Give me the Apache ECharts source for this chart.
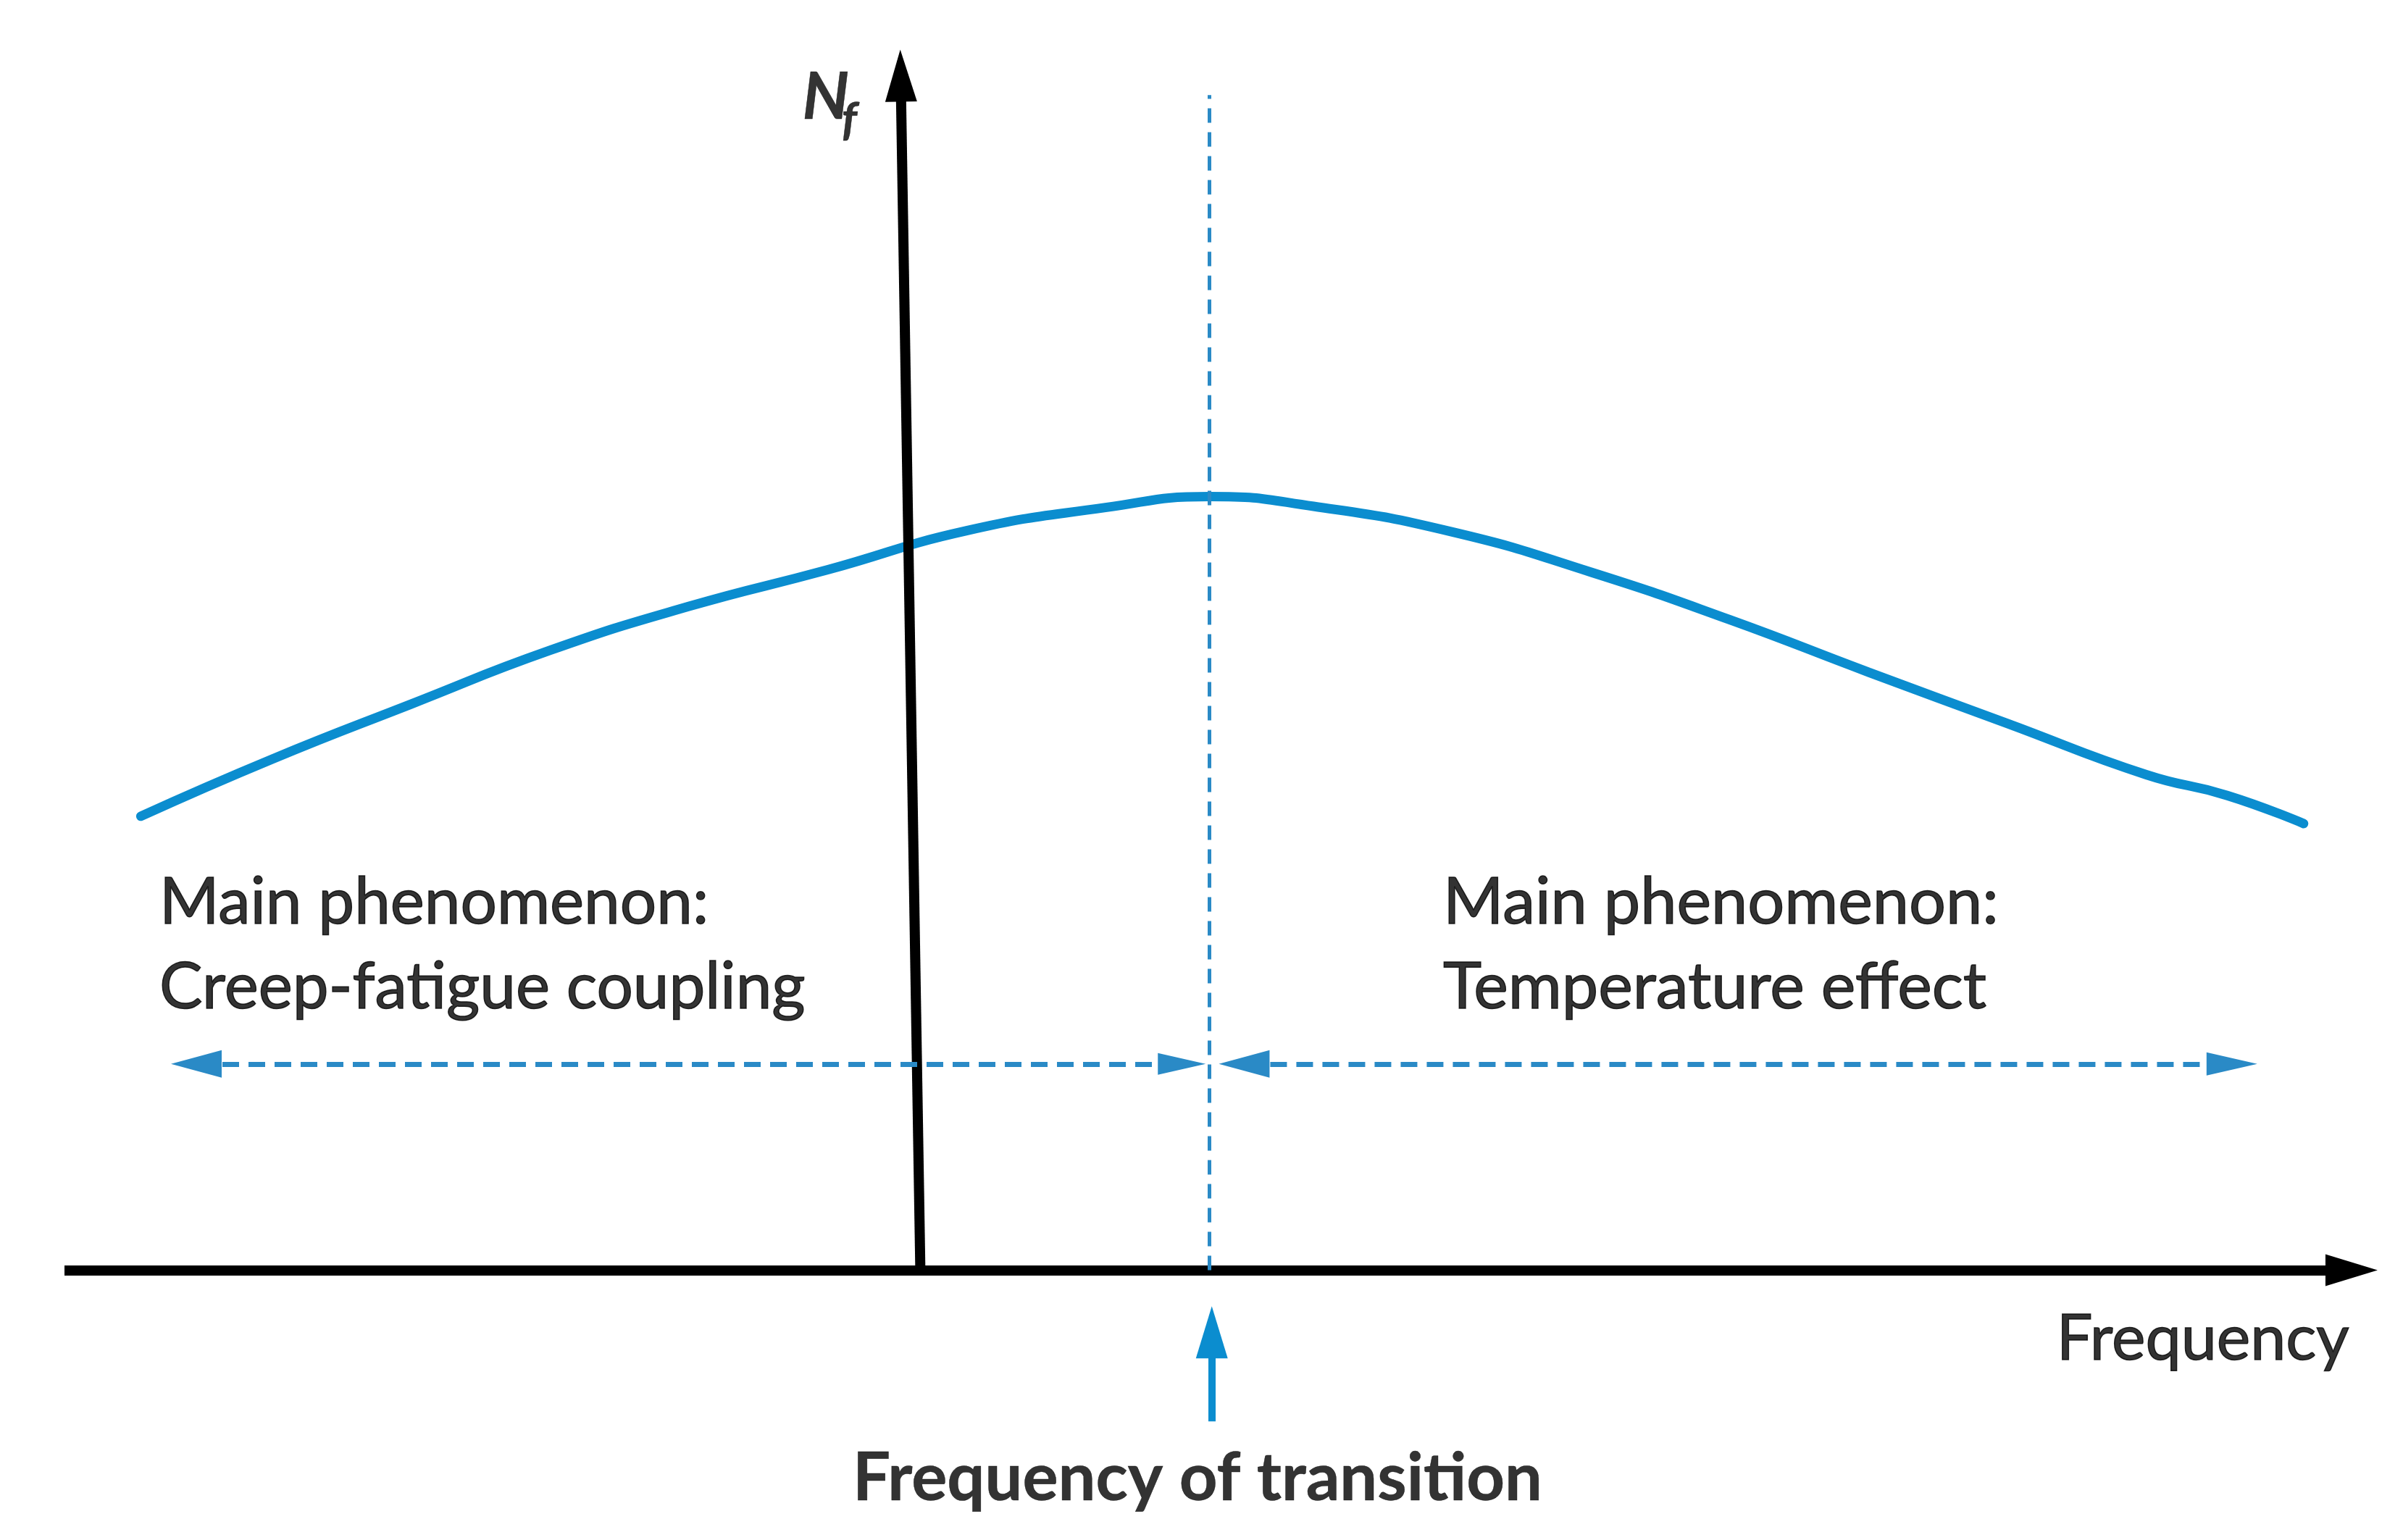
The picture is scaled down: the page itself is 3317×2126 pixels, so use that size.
<!DOCTYPE html>
<html>
<head>
<meta charset="utf-8">
<script src="https://cdn.jsdelivr.net/npm/echarts@6/dist/echarts.min.js"></script>
<style>
html,body{margin:0;padding:0;background:#fff;}
#chart{width:3317px;height:2126px;}
</style>
</head>
<body>
<div id="chart"></div>
<script>
// Curve: number of cycles to failure vs. frequency (arbitrary units)
const freq = [3.3, 9, 15, 21, 27, 33, 39, 45, 49.5, 54, 60, 66, 72, 78, 84, 90, 93.5, 96.8];
const nf   = [37.2, 41.9, 46.4, 50.8, 54.4, 57.4, 60.6, 62.5, 63.4, 62.6, 60.5, 57.2, 53.3, 49.0, 44.8, 40.6, 38.9, 36.6];
const transitionFreq = 49.5;
const yAxisFoot = 37.0, yAxisHead = 36.15;
const axisNames = ['N', 'f', 'Frequency'];
const transitionLabel = 'Frequency of transition';
const regionTitles = ['Main phenomenon:', 'Main phenomenon:'];
const regionNames = ['Creep-fatigue coupling', 'Temperature effect'];
const regionArrows = [[5.7, 48.3], [51.0, 93.7]];

const BLUE = '#0b8dcf';
const DASH = '#2a8ac6';
const FONT = 'Lato';

const curve = freq.map((x, i) => [x, nf[i]]);

const triArrow = [38, 70];
const markLines = [
  // x axis
  [{coord: [0, 0], symbol: 'none', lineStyle: {color: '#000', width: 14, type: 'solid'}},
   {coord: [98.87, 0], symbol: 'triangle', symbolSize: [44, 72]}],
  // y axis (slightly tilted)
  [{coord: [yAxisFoot, 0], symbol: 'none', lineStyle: {color: '#000', width: 14, type: 'solid'}},
   {coord: [yAxisHead, 97.9], symbol: 'triangle', symbolSize: [44, 72]}],
  // transition dashed line
  [{coord: [transitionFreq, 0], symbol: 'none', lineStyle: {color: DASH, width: 5, type: [20, 13]}},
   {coord: [transitionFreq, 96.3], symbol: 'none'}],
  // region arrows
  [{coord: [regionArrows[0][0], 16.9], symbol: 'triangle', symbolSize: triArrow, lineStyle: {color: DASH, width: 7, type: [23, 13]}},
   {coord: [regionArrows[0][1], 16.9], symbol: 'triangle', symbolSize: [30, 66]}],
  [{coord: [regionArrows[1][0], 16.9], symbol: 'triangle', symbolSize: triArrow, lineStyle: {color: DASH, width: 7, type: [23, 13]}},
   {coord: [regionArrows[1][1], 16.9], symbol: 'triangle', symbolSize: [32, 70]}],
  // up arrow to transition frequency
  [{coord: [49.6, -12.4], symbol: 'none', lineStyle: {color: BLUE, width: 10, type: 'solid'}},
   {coord: [49.6, -5.1], symbol: 'triangle', symbolSize: [44, 72]}]
];

const textBase = {show: true, position: 'inside', color: '#000', fontFamily: FONT, textBorderColor: '#000', textBorderWidth: 1.5};
const labels = [
  {value: [4.1, 26.65], label: Object.assign({}, textBase, {formatter: regionTitles[0] + '\n' + regionNames[0], align: 'left', verticalAlign: 'middle', fontSize: 89, lineHeight: 117})},
  {value: [59.6, 26.65], label: Object.assign({}, textBase, {formatter: regionTitles[1] + '\n' + regionNames[1], align: 'left', verticalAlign: 'middle', fontSize: 90, lineHeight: 117})},
  {value: [98.77, -5.67], label: Object.assign({}, textBase, {formatter: axisNames[2], align: 'right', verticalAlign: 'middle', fontSize: 88})},
  {value: [48.98, -17.07], label: Object.assign({}, textBase, {formatter: transitionLabel, align: 'center', verticalAlign: 'middle', fontSize: 92, fontWeight: 'bold', textBorderWidth: 0.5})},
  {value: [31.9, 96.1], label: Object.assign({}, textBase, {formatter: axisNames[0], align: 'left', verticalAlign: 'middle', fontSize: 90, fontWeight: 'bold', fontStyle: 'italic', textBorderWidth: 0.5})},
  {value: [33.6, 94.2], label: Object.assign({}, textBase, {formatter: axisNames[1], align: 'left', verticalAlign: 'middle', fontSize: 64, fontWeight: 'bold', fontStyle: 'italic', textBorderWidth: 0.5})}
];

const chart = echarts.init(document.getElementById('chart'), null, {renderer: 'canvas'});
chart.setOption({
  backgroundColor: '#ffffff',
  animation: false,
  grid: {left: 89, right: 35, top: 69, bottom: 2},
  xAxis: {type: 'value', min: 0, max: 100, show: false},
  yAxis: {type: 'value', min: -22, max: 100, show: false},
  series: [
    {
      type: 'line',
      data: curve,
      smooth: 0.5,
      showSymbol: false,
      symbol: 'none',
      lineStyle: {color: BLUE, width: 13, cap: 'round'},
      z: 2,
      silent: true,
      markLine: {
        silent: true,
        animation: false,
        label: {show: false},
        symbol: ['none', 'triangle'],
        data: markLines,
        z: 5
      }
    },
    {
      type: 'scatter',
      data: labels,
      symbolSize: 0,
      itemStyle: {color: 'rgba(0,0,0,0)'},
      silent: true,
      z: 10
    }
  ]
});
</script>
</body>
</html>
